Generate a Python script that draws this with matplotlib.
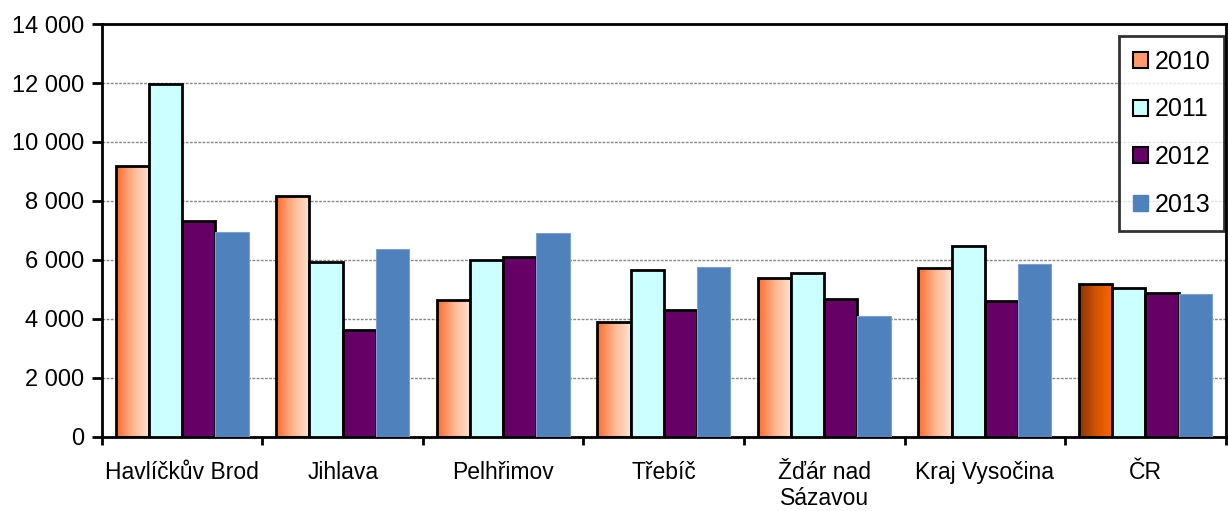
import numpy as np
import matplotlib
matplotlib.use("Agg")
import matplotlib.pyplot as plt
from matplotlib.colors import LinearSegmentedColormap
from matplotlib.ticker import FuncFormatter
from matplotlib.patches import Patch

plt.rcParams["font.family"] = ["Liberation Sans", "DejaVu Sans"]

categories = ["Havlíčkův Brod", "Jihlava", "Pelhřimov", "Třebíč", "Žďár nad\nSázavou", "Kraj Vysočina", "ČR"]
years = ["2010", "2011", "2012", "2013"]
v2010 = [9190, 8180, 4640, 3900, 5390, 5720, 5190]
v2011 = [11950, 5930, 6000, 5660, 5560, 6460, 5050]
v2012 = [7310, 3630, 6110, 4310, 4670, 4610, 4880]
v2013 = [6950, 6370, 6910, 5760, 4100, 5870, 4840]

fig = plt.figure(figsize=(12.28, 5.11), dpi=100)
ax = fig.add_axes([0.083, 0.145, 0.915, 0.808])

x = np.arange(len(categories))
w = 0.207
offsets = [-1.5 * w, -0.5 * w, 0.5 * w, 1.5 * w]

bars10 = ax.bar(x + offsets[0], v2010, w, facecolor="none", edgecolor="black", linewidth=2, zorder=3)
ax.bar(x + offsets[1], v2011, w, color="#CCFFFF", edgecolor="black", linewidth=2, zorder=3)
ax.bar(x + offsets[2], v2012, w, color="#660066", edgecolor="black", linewidth=2, zorder=3)
ax.bar(x + offsets[3], v2013, w, color="#4F81BD", edgecolor="#7FA0CC", linewidth=0.8, zorder=3)

# gradient fill for the 2010 bars
light = LinearSegmentedColormap.from_list("light", ["#FF6A2A", "#FFB590", "#FFE3D2"])
dark = LinearSegmentedColormap.from_list("dark", ["#8A3306", "#D05505", "#FF6600"])
grad = np.linspace(0, 1, 100).reshape(1, -1)
for i, b in enumerate(bars10):
    cm = dark if categories[i] == "ČR" else light
    x0 = b.get_x()
    im = ax.imshow(grad, cmap=cm, aspect="auto", extent=[x0, x0 + w, 0, b.get_height()], zorder=2.5)
    im.set_clip_path(b)

ax.set_xlim(-0.5, len(categories) - 0.5)
ax.set_ylim(0, 14000)
ax.set_yticks(np.arange(0, 14001, 2000))
ax.yaxis.set_major_formatter(FuncFormatter(lambda v, p: f"{int(v):,}".replace(",", " ")))
ax.set_xticks(x)
ax.set_xticklabels(categories, linespacing=1.2)
ax.set_xticks(np.arange(-0.5, len(categories), 1), minor=True)
ax.tick_params(axis="x", which="major", length=0, pad=17, labelsize=16.5)
ax.tick_params(axis="x", which="minor", length=6, width=2, direction="out")
ax.tick_params(axis="y", length=7, width=2, labelsize=17, pad=6)

ax.grid(axis="y", color="#888888", linestyle=(0, (2, 1)), linewidth=1, zorder=0)
for s in ax.spines.values():
    s.set_linewidth(2)
    s.set_color("black")

handles = [
    Patch(facecolor="#FF9A6A", edgecolor="black", linewidth=1.5),
    Patch(facecolor="#CCFFFF", edgecolor="black", linewidth=1.5),
    Patch(facecolor="#660066", edgecolor="black", linewidth=1.5),
    Patch(facecolor="#4F81BD", edgecolor="#4F81BD"),
]
leg = ax.legend(handles, years, loc="upper right", bbox_to_anchor=(0.9986, 0.971), fontsize=18,
                frameon=True, fancybox=False, edgecolor="black", handlelength=0.6, handleheight=0.6,
                handletextpad=0.25, labelspacing=0.95, borderpad=0.55, borderaxespad=0)
leg.get_frame().set_linewidth(2)
leg.set_zorder(5)

fig.savefig("out.png", dpi=100)
